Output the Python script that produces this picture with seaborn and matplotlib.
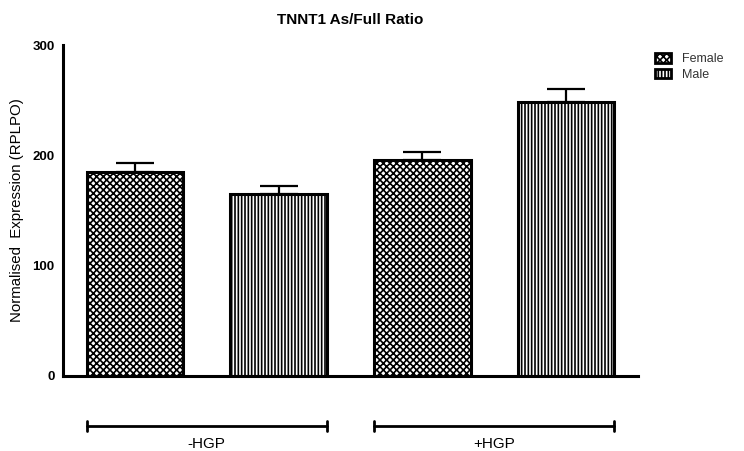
import matplotlib
matplotlib.use("Agg")
import matplotlib.pyplot as plt
import matplotlib.transforms as mtransforms
from matplotlib.patches import Patch
import numpy as np
import pandas as pd
import seaborn as sns

# values
groups = ["-HGP", "+HGP"]
sexes = ["Female", "Male"]
means = [185, 165, 196, 248]
sems = [8, 7, 7, 12]
hatches = {"Female": "xxxxx", "Male": "|||||"}

sns.set_style("white")
plt.rcParams["font.family"] = ["Liberation Sans", "DejaVu Sans"]
plt.rcParams["hatch.linewidth"] = 1.2
plt.rcParams["text.color"] = "black"
plt.rcParams["axes.labelcolor"] = "black"
plt.rcParams["ytick.color"] = "black"
plt.rcParams["xtick.color"] = "black"

df = pd.DataFrame({
    "bar": [f"{s} {g}" for g in groups for s in sexes],
    "sex": [s for g in groups for s in sexes],
    "value": means,
})

fig = plt.figure(figsize=(7.44, 4.51), dpi=100)
ax = fig.add_axes([0.0847, 0.1663, 0.7728, 0.7339])

sns.barplot(data=df, x="bar", y="value", hue="sex", dodge=False, width=0.67,
            palette={"Female": "white", "Male": "white"}, edgecolor="black",
            linewidth=2.2, legend=False, ax=ax)
# seaborn orders patches by hue level, so match them back by position
for patch in ax.patches:
    idx = int(round(patch.get_x() + patch.get_width() / 2))
    patch.set_hatch(hatches[df["sex"][idx]])

xpos = np.arange(len(df))
ax.errorbar(xpos, df["value"], yerr=[np.zeros(len(sems)), sems], fmt="none",
            ecolor="black", elinewidth=1.6, capsize=14, capthick=1.6, zorder=1)

ax.set_xlim(-0.5, 3.5)
ax.set_ylim(0, 300)
ax.set_yticks([0, 100, 200, 300])
ax.set_xticks(xpos)
ax.set_xticklabels([])
ax.set_xlabel("")
ax.set_ylabel("Normalised  Expression (RPLPO)", fontsize=10.8, labelpad=6)
ax.tick_params(axis="y", direction="out", length=5, width=1.8, labelsize=9.5, pad=1)
ax.tick_params(axis="x", direction="out", length=4, width=1.5)
for lbl in ax.get_yticklabels():
    lbl.set_fontweight("bold")
sns.despine(ax=ax)
for side in ["left", "bottom"]:
    ax.spines[side].set_linewidth(2.2)
    ax.spines[side].set_color("black")

ax.set_title("TNNT1 As/Full Ratio", fontsize=11, fontweight="bold", pad=15)

# group brackets under the axis
trans = mtransforms.blended_transform_factory(ax.transData, ax.transAxes)
half = 0.67 / 2
for i, g in enumerate(groups):
    x0, x1 = 2 * i - half, 2 * i + 1 + half
    ax.plot([x0, x1], [-0.151, -0.151], color="black", lw=2, transform=trans, clip_on=False)
    for xe in (x0, x1):
        ax.plot([xe, xe], [-0.137, -0.165], color="black", lw=2, transform=trans, clip_on=False)
    ax.text((x0 + x1) / 2, -0.183, g, transform=trans, ha="center", va="top", fontsize=11)

handles = [Patch(facecolor="white", edgecolor="black", linewidth=2, hatch=hatches[s]) for s in sexes]
leg = ax.legend(handles, sexes, loc="upper left", bbox_to_anchor=(1.01, 1.01), frameon=False,
                fontsize=9, handlelength=1.3, handleheight=0.8, handletextpad=0.9, labelspacing=0.3)
for t in leg.get_texts():
    t.set_color("#333333")

fig.savefig("out.png", dpi=100)
